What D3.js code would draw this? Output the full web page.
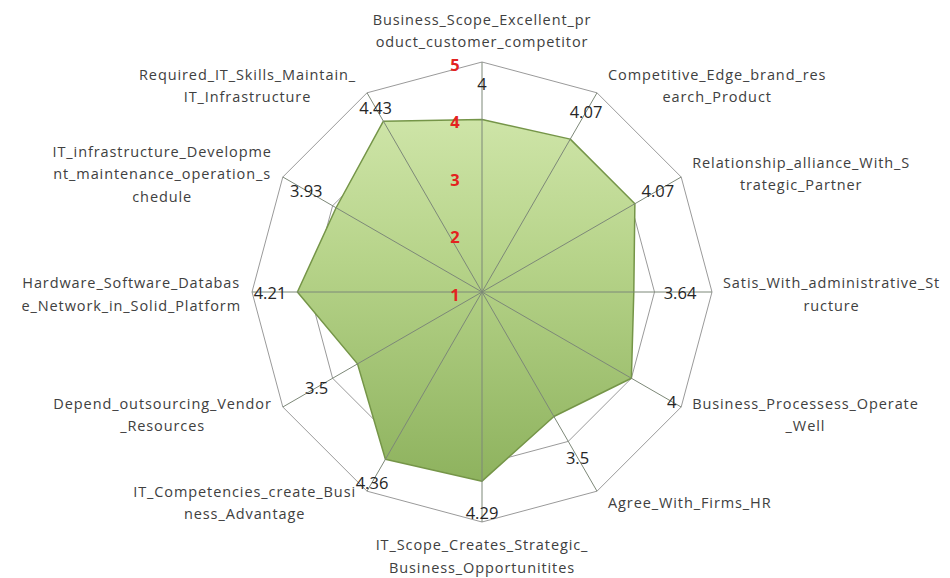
<!DOCTYPE html>
<html>
<head>
<meta charset="utf-8">
<script src="https://cdn.jsdelivr.net/npm/d3@7/dist/d3.min.js"></script>
<style>
  body { margin: 0; background: #fff; }
  text { font-family: "Open Sans", "Noto Sans", sans-serif; }
</style>
</head>
<body>
<svg id="chart" width="950" height="578"></svg>
<script>
// axis labels, broken the way the original wraps them
var categories = [
    "Business_Scope_Excellent_pr\noduct_customer_competitor",
    "Competitive_Edge_brand_res\nearch_Product",
    "Relationship_alliance_With_S\ntrategic_Partner",
    "Satis_With_administrative_St\nructure",
    "Business_Processess_Operate\n_Well",
    "Agree_With_Firms_HR",
    "IT_Scope_Creates_Strategic_\nBusiness_Opportunitites",
    "IT_Competencies_create_Busi\nness_Advantage",
    "Depend_outsourcing_Vendor\n_Resources",
    "Hardware_Software_Databas\ne_Network_in_Solid_Platform",
    "IT_infrastructure_Developme\nnt_maintenance_operation_s\nchedule",
    "Required_IT_Skills_Maintain_\nIT_Infrastructure"
];
var values = [4, 4.07, 4.07, 3.64, 4, 3.5, 4.29, 4.36, 3.5, 4.21, 3.93, 4.43];
var valueText = ["4", "4.07", "4.07", "3.64", "4", "3.5", "4.29", "4.36", "3.5", "4.21", "3.93", "4.43"];
var ticks = [1, 2, 3, 4, 5];

// layout
var cx = 482, cy = 292, R = 230;
var valueLabelR = [209, 208, 203, 198, 219, 191, 220, 220, 191, 212, 203, 213];
var n = categories.length;

var svg = d3.select("#chart");

var r = d3.scaleLinear().domain([1, 5]).range([0, R]);
var angle = function(i){ return i * 2 * Math.PI / n; };

var defs = svg.append("defs");
var grad = defs.append("linearGradient")
    .attr("id", "fillGrad")
    .attr("gradientUnits", "userSpaceOnUse")
    .attr("x1", 0).attr("y1", -185)
    .attr("x2", 0).attr("y2", 205);
grad.append("stop").attr("offset", "0").attr("stop-color", "#d0e6aa");
grad.append("stop").attr("offset", "0.4").attr("stop-color", "#b6d389");
grad.append("stop").attr("offset", "1").attr("stop-color", "#8bb05b");

var g = svg.append("g").attr("transform", "translate(" + cx + "," + cy + ")");

var ring = d3.lineRadial()
    .angle(function(d, i){ return angle(i); })
    .radius(function(d){ return r(d); })
    .curve(d3.curveLinearClosed);

// rings
g.append("g").attr("class", "rings")
    .selectAll("path")
    .data(ticks.slice(1))
    .enter()
    .append("path")
    .attr("d", function(t){ return ring(d3.range(n).map(function(){ return t; })); })
    .attr("fill", "none")
    .attr("stroke", "#9a9a9a")
    .attr("stroke-width", 1);

// data area
g.append("path")
    .attr("d", ring(values))
    .attr("fill", "url(#fillGrad)")
    .attr("stroke", "#759548")
    .attr("stroke-width", 1.5)
    .attr("stroke-linejoin", "round");

// spokes, drawn over the fill
g.append("g").attr("class", "spokes")
    .selectAll("line")
    .data(d3.range(n))
    .enter()
    .append("line")
    .attr("x1", 0).attr("y1", 0)
    .attr("x2", function(i){ return r(5) * Math.sin(angle(i)); })
    .attr("y2", function(i){ return -r(5) * Math.cos(angle(i)); })
    .attr("stroke", "#7d8878")
    .attr("stroke-width", 1);

// tick labels
g.append("g").attr("class", "ticks")
    .selectAll("text")
    .data(ticks)
    .enter()
    .append("text")
    .attr("x", -27)
    .attr("y", function(t){ return -r(t) + 2; })
    .attr("text-anchor", "middle")
    .attr("dominant-baseline", "central")
    .attr("font-size", 16.5)
    .attr("font-weight", "bold")
    .attr("fill", "#e3231f")
    .text(function(t){ return t; });

// value labels
g.append("g").attr("class", "values")
    .selectAll("text")
    .data(valueText)
    .enter()
    .append("text")
    .attr("x", function(d, i){ return valueLabelR[i] * Math.sin(angle(i)); })
    .attr("y", function(d, i){ return -valueLabelR[i] * Math.cos(angle(i)); })
    .attr("text-anchor", "middle")
    .attr("dominant-baseline", "central")
    .attr("font-size", 16.5)
    .attr("fill", "#262626")
    .text(function(d){ return d; });

// category labels
var lineH = 22.5, gap = 11;
var cat = g.append("g").attr("class", "categories")
    .selectAll("text")
    .data(categories)
    .enter()
    .append("text")
    .attr("text-anchor", "middle")
    .attr("font-size", 14.5)
    .attr("letter-spacing", 0.9)
    .attr("fill", "#404040");

cat.each(function(d){
    var t = d3.select(this);
    d.split("\n").forEach(function(line, k){
        t.append("tspan").attr("x", 0).attr("y", k * lineH).text(line);
    });
});

cat.attr("transform", function(d, i){
    var a = angle(i), s = Math.sin(a), c = Math.cos(a);
    var vx = R * s, vy = -R * c;
    var bb = this.getBBox();
    var w = bb.width, h = bb.height;
    var x, y;
    if (Math.abs(s) < 0.01) {
        x = vx;
        y = c > 0 ? vy - gap - h / 2 : vy + gap + 2 + h / 2;
    } else {
        x = vx + (s > 0 ? 1 : -1) * (gap + w / 2);
        y = vy - 11 * c + 2;
    }
    return "translate(" + (x - (bb.x + w / 2)) + "," + (y - (bb.y + h / 2)) + ")";
});
</script>
</body>
</html>
